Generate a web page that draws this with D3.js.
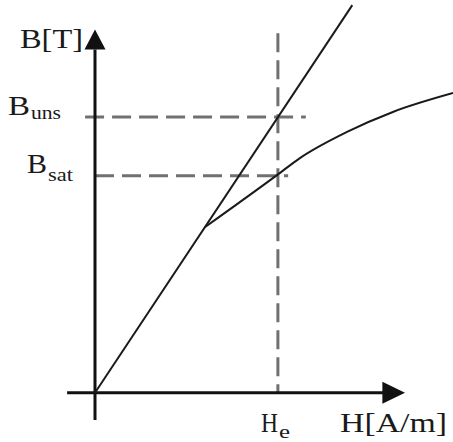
<!DOCTYPE html>
<html>
<head>
<meta charset="utf-8">
<script src="https://cdn.jsdelivr.net/npm/d3@7"></script>
<style>
  html, body { margin: 0; padding: 0; background: #ffffff; }
  svg { display: block; }
  text { font-family: "Liberation Serif", "DejaVu Serif", serif; fill: #1a1a1a; }
</style>
</head>
<body>
<svg id="chart" width="453" height="442"></svg>
<script>
// Magnetisation curves: field strength H against flux density B (arbitrary units)
const unsatH = [0, 8.3];
const unsatB = [0, 10.67];

const satH = [3.55, 5.87, 6.61, 8.13, 9.61, 11.55];
const satB = [4.56, 5.99, 6.46, 7.18, 7.73, 8.25];

// Reference levels
const He = 5.9;
const Buns = 7.59;
const Bsat = 5.97;

const svg = d3.select("#chart");
const x = d3.scaleLinear().domain([0, 10]).range([95, 405]);
const y = d3.scaleLinear().domain([0, 10]).range([392.7, 29.5]);

// Dashed guide lines
const guide = svg.append("g")
  .attr("stroke", "#707070")
  .attr("stroke-width", 3)
  .attr("stroke-dasharray", "19,8")
  .attr("fill", "none");
guide.append("line")
  .attr("x1", x(He)).attr("x2", x(He))
  .attr("y1", y(9.9)).attr("y2", y(0));
guide.append("line")
  .attr("x1", x(-0.32)).attr("x2", x(6.8))
  .attr("y1", y(Buns)).attr("y2", y(Buns));
guide.append("line")
  .attr("x1", x(0)).attr("x2", x(6.23))
  .attr("y1", y(Bsat)).attr("y2", y(Bsat));

// Axes with arrowheads
const axes = svg.append("g").attr("stroke", "#111").attr("stroke-width", 3);
axes.append("line")
  .attr("x1", x(0)).attr("x2", x(0))
  .attr("y1", y(-0.75)).attr("y2", y(9.45));
axes.append("line")
  .attr("x1", x(-0.9)).attr("x2", x(9.3))
  .attr("y1", y(0)).attr("y2", y(0));
svg.append("path")
  .attr("fill", "#111")
  .attr("d", `M${x(0)},${y(10)} L${x(0) - 10.5},${y(9.45)} L${x(0) + 10.5},${y(9.45)} Z`);
svg.append("path")
  .attr("fill", "#111")
  .attr("d", `M${x(10)},${y(0)} L${x(9.27)},${y(0) - 11} L${x(9.27)},${y(0) + 11} Z`);

// Curves
const line = d3.line().x(d => x(d[0])).y(d => y(d[1]));
svg.append("path")
  .datum(d3.zip(unsatH, unsatB))
  .attr("fill", "none").attr("stroke", "#1a1a1a").attr("stroke-width", 2)
  .attr("d", line);
svg.append("path")
  .datum(d3.zip(satH, satB))
  .attr("fill", "none").attr("stroke", "#1a1a1a").attr("stroke-width", 2)
  .attr("d", line.curve(d3.curveMonotoneX));

// Labels
function label(px, py, main, sub, size, mainLen, subLen, subDy) {
  const t = svg.append("text").attr("x", px).attr("y", py).attr("font-size", size);
  t.append("tspan").text(main)
    .attr("textLength", mainLen).attr("lengthAdjust", "spacingAndGlyphs");
  if (sub) {
    const s = t.append("tspan").text(sub)
      .attr("font-size", size * 0.7)
      .attr("dx", 1)
      .attr("dy", subDy);
    if (subLen) s.attr("textLength", subLen).attr("lengthAdjust", "spacingAndGlyphs");
  }
}
label(20, 48, "B[T]", null, 27, 63);
label(8, 115, "B", "uns", 27, 22, 30, 4);
label(27, 173, "B", "sat", 27, 20, 25, 8);
label(261, 432, "H", "e", 27, 17, 11, 6);
label(340, 432, "H[A/m]", null, 27, 107);
</script>
</body>
</html>
